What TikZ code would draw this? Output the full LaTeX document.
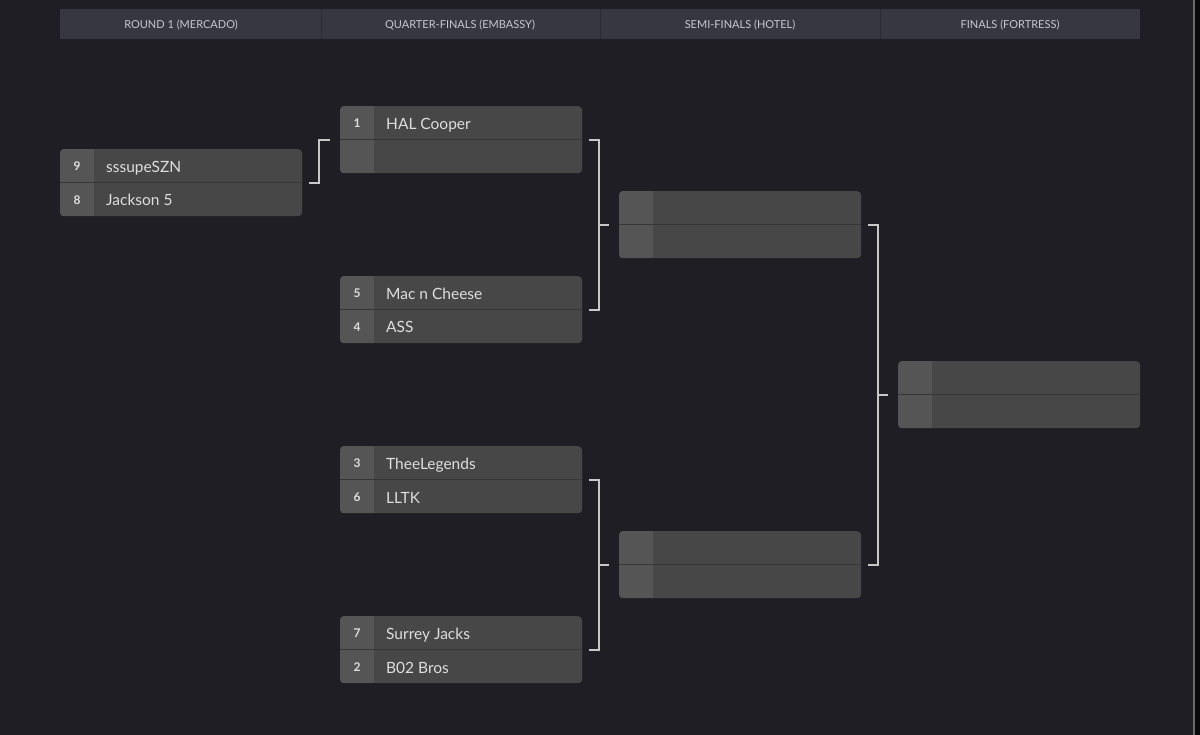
\documentclass[tikz,border=0pt]{standalone}
\usepackage{fontspec}
\setmainfont{Lato}
\definecolor{bgc}{HTML}{1F1E24}
\definecolor{edgec}{HTML}{6A6A6E}
\definecolor{headc}{HTML}{363741}
\definecolor{headl}{HTML}{2A2B33}
\definecolor{headt}{HTML}{C8C9CE}
\definecolor{namec}{HTML}{474747}
\definecolor{seedc}{HTML}{555555}
\definecolor{rowl}{HTML}{363636}
\definecolor{teamt}{HTML}{DEDEDE}
\definecolor{linkc}{HTML}{C8C8C8}

\begin{document}
\begin{tikzpicture}[x=1pt,y=-1pt,
  matchbox/.style={anchor=north west,minimum width=242pt,minimum height=67pt,
    rounded corners=4pt,fill=namec,inner sep=0pt},
  seednum/.style={text=teamt,font=\fontsize{12}{14}\selectfont\bfseries},
  team/.style={anchor=base west,inner sep=0pt,text=teamt,font=\fontsize{15.5}{18}\selectfont},
  head/.style={text=headt,font=\fontsize{11}{13}\selectfont},
  link/.style={draw=linkc,line width=2pt}]
  \fill[bgc] (0,0) rectangle (1200,735);
  \fill[edgec] (1193,0) rectangle (1195,735);
  \fill[black!70!bgc] (1195,0) rectangle (1200,735);
  \fill[headc] (60,9) rectangle (1140,39);
  \foreach \x in {321,600,880} \draw[headl,line width=1pt] (\x,9) -- (\x,39);
  \node[head] (h1) at (181,25) {ROUND 1 (MERCADO)};
  \node[head] (h2) at (460,25) {QUARTER-FINALS (EMBASSY)};
  \node[head] (h3) at (740,25) {SEMI-FINALS (HOTEL)};
  \node[head] (h4) at (1010,25) {FINALS (FORTRESS)};
  \foreach \id/\x/\y/\sa/\na/\sb/\nb in {r1/60/149/9/sssupeSZN/8/Jackson 5,
      qf1/340/106/1/HAL Cooper/{}/{}, qf2/340/276/5/Mac n Cheese/4/ASS,
      qf3/340/446/3/TheeLegends/6/LLTK, qf4/340/616/7/Surrey Jacks/2/B02 Bros,
      sf1/619/191/{}/{}/{}/{}, sf2/619/531/{}/{}/{}/{}, fin/898/361/{}/{}/{}/{}}{
    \node[matchbox] (\id) at (\x,\y) {};
    \begin{scope}
      \clip[rounded corners=4pt] (\id.north west) rectangle (\id.south east);
      \fill[seedc] (\id.north west) rectangle ++(34,67);
    \end{scope}
    \draw[rowl,line width=1.5pt] (\id.west) -- (\id.east);
    \node[seednum] (\id-sa) at (\x+17,\y+17.5) {\sa};
    \node[seednum] (\id-sb) at (\x+17,\y+51) {\sb};
    \node[team] (\id-na) at (\x+46,\y+23.5) {\na};
    \node[team] (\id-nb) at (\x+46,\y+57) {\nb};
  }
  \draw[link,shorten <=7pt,shorten >=10pt] (r1.east) -- ++(17,0) |- (qf1.west);
  \draw[link,shorten <=7pt,shorten >=7pt] (qf1.east) -- ++(17,0) coordinate (j1) |- (qf2.east);
  \draw[link,shorten <=7pt,shorten >=7pt] (qf3.east) -- ++(17,0) coordinate (j2) |- (qf4.east);
  \draw[link,shorten <=7pt,shorten >=7pt] (sf1.east) -- ++(17,0) coordinate (j3) |- (sf2.east);
  \draw[link,shorten >=10pt] (sf1.west -| j1) -- (sf1.west);
  \draw[link,shorten >=10pt] (sf2.west -| j2) -- (sf2.west);
  \draw[link,shorten >=10pt] (fin.west -| j3) -- (fin.west);
\end{tikzpicture}
\end{document}
